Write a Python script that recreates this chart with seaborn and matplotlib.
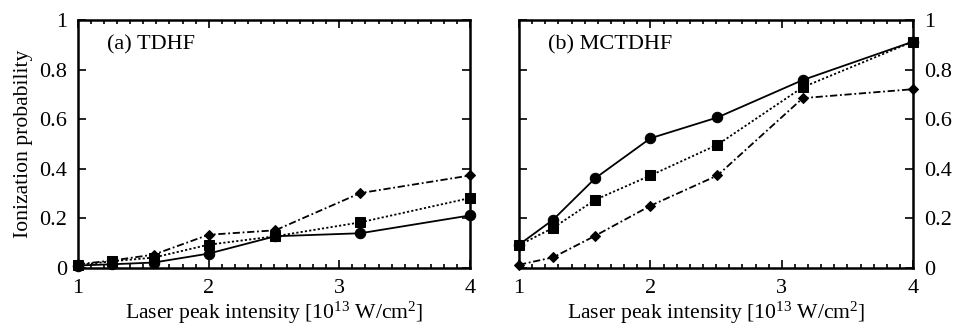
import numpy as np
import pandas as pd
import matplotlib
matplotlib.use('Agg')
import matplotlib.pyplot as plt
import seaborn as sns
from matplotlib.ticker import MultipleLocator, FuncFormatter

# Laser peak intensity [10^13 W/cm^2]
intensity = [1.0, 1.26, 1.58, 2.0, 2.51, 3.16, 4.0]

# (a) TDHF
tdhf_circle = [0.010, 0.015, 0.022, 0.058, 0.128, 0.140, 0.212]
tdhf_square = [0.012, 0.027, 0.042, 0.094, 0.128, 0.184, 0.282]
tdhf_diamond = [0.015, 0.030, 0.054, 0.134, 0.152, 0.302, 0.373]

# (b) MCTDHF
mc_circle = [0.094, 0.195, 0.362, 0.523, 0.607, 0.758, 0.913]
mc_square = [0.092, 0.162, 0.275, 0.373, 0.497, 0.729, 0.913]
mc_diamond = [0.013, 0.043, 0.130, 0.251, 0.373, 0.685, 0.721]

panel_titles = ['(a) TDHF', '(b) MCTDHF']

sns.set_style('ticks', {'axes.edgecolor': 'black', 'text.color': 'black',
                        'axes.labelcolor': 'black', 'xtick.color': 'black',
                        'ytick.color': 'black'})
plt.rcParams['font.family'] = ['Liberation Serif', 'DejaVu Serif']
plt.rcParams['mathtext.fontset'] = 'custom'
plt.rcParams['mathtext.rm'] = 'Liberation Serif'
plt.rcParams['mathtext.it'] = 'Liberation Serif:italic'

fig = plt.figure(figsize=(9.58, 3.32), dpi=100)
ax_a = fig.add_axes([0.0814, 0.1928, 0.4092, 0.747])
ax_b = fig.add_axes([0.5418, 0.1928, 0.4114, 0.747])

# marker, size, line style for the three series
styles = [
    ('o', 7.5, '-'),
    ('s', 7.5, (0, (1.2, 1.2))),
    ('D', 5, (0, (4, 1.5, 1, 1.5))),
]

panels = [
    (ax_a, [tdhf_circle, tdhf_square, tdhf_diamond]),
    (ax_b, [mc_circle, mc_square, mc_diamond]),
]

for i, (ax, series) in enumerate(panels):
    for vals, (mk, ms, ls) in zip(series, styles):
        df = pd.DataFrame({'x': intensity, 'y': vals})
        sns.lineplot(data=df, x='x', y='y', ax=ax, color='black', marker=mk,
                     markersize=ms, markeredgecolor='black', linewidth=1.3,
                     linestyle=ls, clip_on=False, zorder=3)
    ax.set_xlim(1, 4)
    ax.set_ylim(0, 1)
    ax.xaxis.set_major_locator(MultipleLocator(1))
    ax.xaxis.set_minor_locator(MultipleLocator(0.1))
    ax.yaxis.set_major_locator(MultipleLocator(0.2))
    ax.yaxis.set_major_formatter(FuncFormatter(lambda v, p: '%g' % round(v, 2)))
    ax.tick_params(which='both', direction='in', top=True, right=True,
                   labelsize=16, width=1.2, color='black', labelcolor='black')
    ax.tick_params(which='major', length=6, pad=8)
    ax.tick_params(which='minor', length=3)
    for sp in ax.spines.values():
        sp.set_linewidth(1.8)
        sp.set_color('black')
    ax.set_xlabel(r'Laser peak intensity [10$^{13}$ W/cm$^2$]', fontsize=15.6,
                  labelpad=1, color='black')
    ax.text(0.074, 0.9, panel_titles[i], transform=ax.transAxes, fontsize=16,
            ha='left', va='center', color='black')

ax_a.set_ylabel('Ionization probability', fontsize=15.6, color='black')
ax_b.set_ylabel('')
ax_b.tick_params(axis='y', labelleft=False, labelright=True)

fig.savefig('out.png', dpi=100)
